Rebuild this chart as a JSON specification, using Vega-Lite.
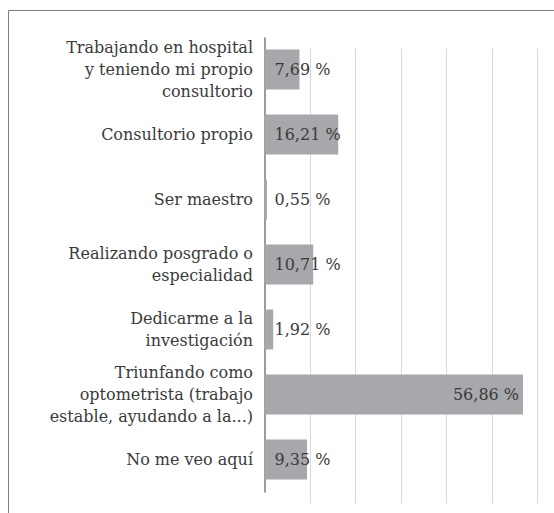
{
  "$schema": "https://vega.github.io/schema/vega-lite/v6.json",
  "width": 560,
  "height": 520,
  "autosize": "none",
  "padding": {"left": 8, "top": 10, "right": 0, "bottom": 0},
  "background": "white",
  "config": {
    "view": {"stroke": "#7f7f7f", "strokeWidth": 1},
    "font": "DejaVu Serif"
  },
  "data": {
    "values": [
      {"cat": "Trabajando en hospital\ny teniendo mi propio\nconsultorio", "value": 7.69, "label": "7,69 %"},
      {"cat": "Consultorio propio", "value": 16.21, "label": "16,21 %"},
      {"cat": "Ser maestro", "value": 0.55, "label": "0,55 %"},
      {"cat": "Realizando posgrado o\nespecialidad", "value": 10.71, "label": "10,71 %"},
      {"cat": "Dedicarme a la\ninvestigación", "value": 1.92, "label": "1,92 %"},
      {"cat": "Triunfando como\noptometrista (trabajo\nestable, ayudando a la...)", "value": 56.86, "label": "56,86 %"},
      {"cat": "No me veo aquí", "value": 9.35, "label": "9,35 %"}
    ]
  },
  "encoding": {
    "y": {
      "field": "cat",
      "type": "nominal",
      "sort": null,
      "scale": {"range": [27, 482], "paddingInner": 0.385, "paddingOuter": 0.1925},
      "axis": {
        "title": null,
        "orient": "left",
        "offset": -256.5,
        "ticks": false,
        "domain": true,
        "domainColor": "#595959",
        "domainWidth": 1.2,
        "grid": false,
        "labelExpr": "split(datum.label, '\\n')",
        "labelFont": "DejaVu Serif",
        "labelFontSize": 16,
        "labelLineHeight": 22,
        "labelColor": "#3a3a3a",
        "labelPadding": 12,
        "labelLimit": 300,
        "labelOffset": {
          "condition": [
            {"test": "length(split(datum.label, '\\n')) == 3", "value": -22},
            {"test": "length(split(datum.label, '\\n')) == 2", "value": -11}
          ],
          "value": 0
        }
      }
    }
  },
  "layer": [
    {
      "mark": {"type": "bar", "color": "#a7a8ab"},
      "encoding": {
        "x": {
          "field": "value",
          "type": "quantitative",
          "scale": {"domain": [0, 60], "range": [256.5, 529.3], "nice": false, "zero": true},
          "axis": {
            "title": null,
            "values": [10, 20, 30, 40, 50, 60],
            "grid": true,
            "gridColor": "#d9d9d9",
            "gridWidth": 1,
            "domain": false,
            "ticks": false,
            "labels": false
          }
        }
      }
    },
    {
      "transform": [{"filter": "datum.value < 50"}],
      "mark": {"type": "text", "align": "left", "baseline": "middle", "dx": 10, "font": "DejaVu Serif", "fontSize": 16, "color": "#3a3a3a"},
      "encoding": {
        "x": {"datum": 0, "type": "quantitative"},
        "text": {"field": "label"}
      }
    },
    {
      "transform": [{"filter": "datum.value >= 50"}],
      "mark": {"type": "text", "align": "right", "baseline": "middle", "dx": -4, "font": "DejaVu Serif", "fontSize": 16, "color": "#3a3a3a"},
      "encoding": {
        "x": {"field": "value", "type": "quantitative"},
        "text": {"field": "label"}
      }
    }
  ]
}
